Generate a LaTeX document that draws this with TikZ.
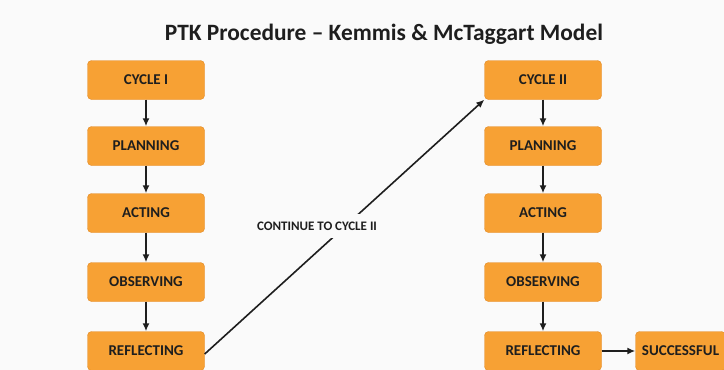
\documentclass[tikz,border=0pt]{standalone}
\usepackage{fontspec}
\setmainfont{Carlito}
\usetikzlibrary{arrows.meta}
\definecolor{myorange}{RGB}{247,161,52}
\definecolor{myborder}{RGB}{226,138,36}
\definecolor{mybg}{RGB}{250,250,250}
\definecolor{mytext}{RGB}{30,30,30}
\newcommand*{\myboxfont}{\fontsize{15}{17}\selectfont\bfseries}
\newcommand*{\mytitlefont}{\fontsize{23.4}{27}\selectfont\bfseries}

\begin{document}
\begin{tikzpicture}[x=1pt,y=-1pt,
   stepbox/.style={draw=myborder, fill=myorange, rounded corners=4pt,
      minimum width=117pt, minimum height=39pt, inner xsep=2pt,
      font=\myboxfont, text=mytext},
   flow/.style={-{Latex[length=8pt,width=7pt]}, line width=1.6pt, draw=mytext}]

   \useasboundingbox (0,0) rectangle (724,370);
   \fill[mybg] (0,0) rectangle (724,370);
   \clip (0,0) rectangle (724,370);

   \node[font=\mytitlefont, text=mytext] (title) at (384,34)
      {PTK Procedure – Kemmis \& McTaggart Model};

   % cycle one
   \node[stepbox] (cyc1)  at (146,80)  {CYCLE I};
   \node[stepbox] (plan1) at (146,146) {PLANNING};
   \node[stepbox] (act1)  at (146,213) {ACTING};
   \node[stepbox] (obs1)  at (146,282) {OBSERVING};
   \node[stepbox] (refl1) at (146,351) {REFLECTING};

   % cycle two
   \node[stepbox] (cyc2)  at (543,80)  {CYCLE II};
   \node[stepbox] (plan2) at (543,146) {PLANNING};
   \node[stepbox] (act2)  at (543,213) {ACTING};
   \node[stepbox] (obs2)  at (543,282) {OBSERVING};
   \node[stepbox] (refl2) at (543,351) {REFLECTING};
   \node[stepbox, minimum width=90pt] (succ) at (680.5,351) {SUCCESSFUL};

   \draw[flow] (cyc1) -- (plan1);
   \draw[flow] (plan1) -- (act1);
   \draw[flow] (act1) -- (obs1);
   \draw[flow] (obs1) -- (refl1);

   \draw[flow] (cyc2) -- (plan2);
   \draw[flow] (plan2) -- (act2);
   \draw[flow] (act2) -- (obs2);
   \draw[flow] (obs2) -- (refl2);
   \draw[flow] (refl2) -- (succ);

   \draw[flow] ([yshift=-3pt]refl1.east) -- (cyc2.south west);
   \node[fill=mybg, inner xsep=3pt, inner ysep=8pt, text=mytext,
      font=\fontsize{13}{15}\selectfont\bfseries] (cont) at (317,226)
      {CONTINUE TO CYCLE II};

\end{tikzpicture}
\end{document}
